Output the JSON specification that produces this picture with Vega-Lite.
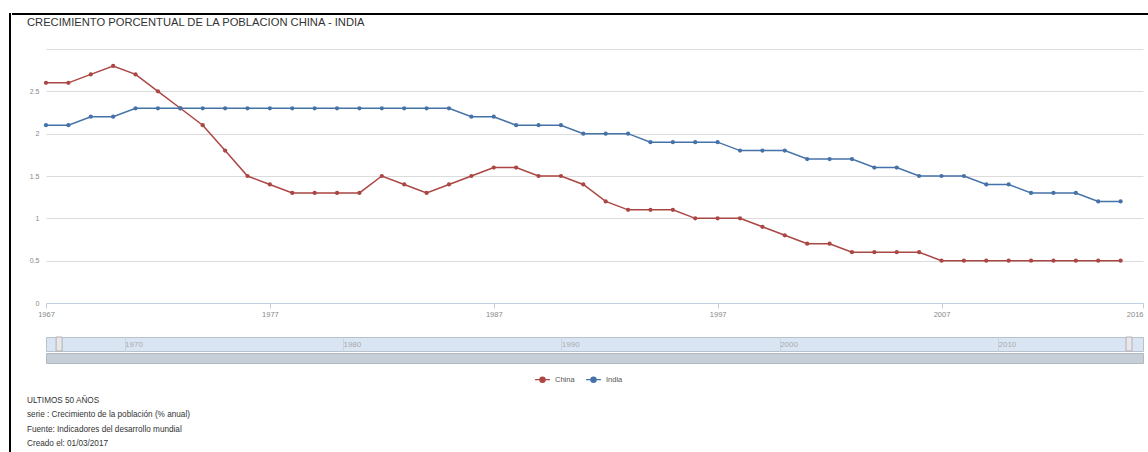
{
  "$schema": "https://vega.github.io/schema/vega-lite/v6.json",
  "padding": {"left": 8, "top": 12, "right": 0, "bottom": 0},
  "background": "white",
  "config": {"font": "Liberation Sans", "view": {"stroke": null}},
  "datasets": {
    "pop": [
      {"year": 1967, "country": "China", "value": 2.6}, {"year": 1968, "country": "China", "value": 2.6},
      {"year": 1969, "country": "China", "value": 2.7}, {"year": 1970, "country": "China", "value": 2.8},
      {"year": 1971, "country": "China", "value": 2.7}, {"year": 1972, "country": "China", "value": 2.5},
      {"year": 1973, "country": "China", "value": 2.3}, {"year": 1974, "country": "China", "value": 2.1},
      {"year": 1975, "country": "China", "value": 1.8}, {"year": 1976, "country": "China", "value": 1.5},
      {"year": 1977, "country": "China", "value": 1.4}, {"year": 1978, "country": "China", "value": 1.3},
      {"year": 1979, "country": "China", "value": 1.3}, {"year": 1980, "country": "China", "value": 1.3},
      {"year": 1981, "country": "China", "value": 1.3}, {"year": 1982, "country": "China", "value": 1.5},
      {"year": 1983, "country": "China", "value": 1.4}, {"year": 1984, "country": "China", "value": 1.3},
      {"year": 1985, "country": "China", "value": 1.4}, {"year": 1986, "country": "China", "value": 1.5},
      {"year": 1987, "country": "China", "value": 1.6}, {"year": 1988, "country": "China", "value": 1.6},
      {"year": 1989, "country": "China", "value": 1.5}, {"year": 1990, "country": "China", "value": 1.5},
      {"year": 1991, "country": "China", "value": 1.4}, {"year": 1992, "country": "China", "value": 1.2},
      {"year": 1993, "country": "China", "value": 1.1}, {"year": 1994, "country": "China", "value": 1.1},
      {"year": 1995, "country": "China", "value": 1.1}, {"year": 1996, "country": "China", "value": 1.0},
      {"year": 1997, "country": "China", "value": 1.0}, {"year": 1998, "country": "China", "value": 1.0},
      {"year": 1999, "country": "China", "value": 0.9}, {"year": 2000, "country": "China", "value": 0.8},
      {"year": 2001, "country": "China", "value": 0.7}, {"year": 2002, "country": "China", "value": 0.7},
      {"year": 2003, "country": "China", "value": 0.6}, {"year": 2004, "country": "China", "value": 0.6},
      {"year": 2005, "country": "China", "value": 0.6}, {"year": 2006, "country": "China", "value": 0.6},
      {"year": 2007, "country": "China", "value": 0.5}, {"year": 2008, "country": "China", "value": 0.5},
      {"year": 2009, "country": "China", "value": 0.5}, {"year": 2010, "country": "China", "value": 0.5},
      {"year": 2011, "country": "China", "value": 0.5}, {"year": 2012, "country": "China", "value": 0.5},
      {"year": 2013, "country": "China", "value": 0.5}, {"year": 2014, "country": "China", "value": 0.5},
      {"year": 2015, "country": "China", "value": 0.5},
      {"year": 1967, "country": "India", "value": 2.1}, {"year": 1968, "country": "India", "value": 2.1},
      {"year": 1969, "country": "India", "value": 2.2}, {"year": 1970, "country": "India", "value": 2.2},
      {"year": 1971, "country": "India", "value": 2.3}, {"year": 1972, "country": "India", "value": 2.3},
      {"year": 1973, "country": "India", "value": 2.3}, {"year": 1974, "country": "India", "value": 2.3},
      {"year": 1975, "country": "India", "value": 2.3}, {"year": 1976, "country": "India", "value": 2.3},
      {"year": 1977, "country": "India", "value": 2.3}, {"year": 1978, "country": "India", "value": 2.3},
      {"year": 1979, "country": "India", "value": 2.3}, {"year": 1980, "country": "India", "value": 2.3},
      {"year": 1981, "country": "India", "value": 2.3}, {"year": 1982, "country": "India", "value": 2.3},
      {"year": 1983, "country": "India", "value": 2.3}, {"year": 1984, "country": "India", "value": 2.3},
      {"year": 1985, "country": "India", "value": 2.3}, {"year": 1986, "country": "India", "value": 2.2},
      {"year": 1987, "country": "India", "value": 2.2}, {"year": 1988, "country": "India", "value": 2.1},
      {"year": 1989, "country": "India", "value": 2.1}, {"year": 1990, "country": "India", "value": 2.1},
      {"year": 1991, "country": "India", "value": 2.0}, {"year": 1992, "country": "India", "value": 2.0},
      {"year": 1993, "country": "India", "value": 2.0}, {"year": 1994, "country": "India", "value": 1.9},
      {"year": 1995, "country": "India", "value": 1.9}, {"year": 1996, "country": "India", "value": 1.9},
      {"year": 1997, "country": "India", "value": 1.9}, {"year": 1998, "country": "India", "value": 1.8},
      {"year": 1999, "country": "India", "value": 1.8}, {"year": 2000, "country": "India", "value": 1.8},
      {"year": 2001, "country": "India", "value": 1.7}, {"year": 2002, "country": "India", "value": 1.7},
      {"year": 2003, "country": "India", "value": 1.7}, {"year": 2004, "country": "India", "value": 1.6},
      {"year": 2005, "country": "India", "value": 1.6}, {"year": 2006, "country": "India", "value": 1.5},
      {"year": 2007, "country": "India", "value": 1.5}, {"year": 2008, "country": "India", "value": 1.5},
      {"year": 2009, "country": "India", "value": 1.4}, {"year": 2010, "country": "India", "value": 1.4},
      {"year": 2011, "country": "India", "value": 1.3}, {"year": 2012, "country": "India", "value": 1.3},
      {"year": 2013, "country": "India", "value": 1.3}, {"year": 2014, "country": "India", "value": 1.2},
      {"year": 2015, "country": "India", "value": 1.2}
    ]
  },
  "data": {"name": "pop"},
  "spacing": 0,
  "hconcat": [
    {
      "width": 2, "height": 440,
      "view": {"fill": "black", "stroke": null},
      "mark": {"type": "rule", "opacity": 0},
      "encoding": {}
    },
    {
      "spacing": 1,
      "vconcat": [
        {
          "width": 1138, "height": 2,
          "view": {"fill": "black", "stroke": null},
          "mark": {"type": "rule", "opacity": 0},
          "encoding": {}
        },
        {
          "spacing": 14,
          "hconcat": [
            {
              "width": 1, "height": 1,
              "mark": {"type": "rule", "opacity": 0},
              "encoding": {}
            },
            {
              "title": {
                "text": ["ULTIMOS 50 AÑOS", "serie : Crecimiento de la población (% anual)", "Fuente: Indicadores del desarrollo mundial", "Creado el: 01/03/2017"],
                "orient": "bottom", "anchor": "start", "frame": "group", "dx": -19,
                "fontSize": 8.2, "fontWeight": "normal", "color": "#333", "lineHeight": 14.5, "offset": 33
              },
              "spacing": 18,
              "vconcat": [
                {
                  "title": {
                    "text": "CRECIMIENTO PORCENTUAL DE LA POBLACION CHINA - INDIA",
                    "anchor": "start", "frame": "group", "dx": -19, "offset": 21,
                    "fontSize": 11.2, "fontWeight": "normal", "color": "#333"
                  },
                  "width": 1097, "height": 254,
                  "mark": {"type": "line", "strokeWidth": 1.5, "point": {"filled": true, "size": 18}},
                  "encoding": {
                    "x": {
                      "field": "year", "type": "quantitative",
                      "scale": {"domain": [1967, 2016], "nice": false, "zero": false},
                      "axis": {
                        "title": null, "values": [1967, 1977, 1987, 1997, 2007, 2016], "format": "d",
                        "grid": false, "domainColor": "#c0d0e0", "tickColor": "#c0d0e0", "tickSize": 5,
                        "labelFontSize": 7.5, "labelColor": "#888", "labelPadding": 2,
                        "labelAlign": {"expr": "datum.value == 2016 ? 'right' : 'center'"}
                      }
                    },
                    "y": {
                      "field": "value", "type": "quantitative",
                      "scale": {"domain": [0, 3], "nice": false},
                      "axis": {
                        "title": null, "values": [0, 0.5, 1, 1.5, 2, 2.5, 3],
                        "labelExpr": "datum.value == 3 ? '' : format(datum.value, '~g')",
                        "domain": false, "ticks": false, "gridColor": "#dcdcdc",
                        "labelFontSize": 7, "labelColor": "#888", "labelPadding": 7
                      }
                    },
                    "color": {
                      "field": "country", "type": "nominal",
                      "scale": {"domain": ["China", "India"], "range": ["#AA4643", "#4572A7"]},
                      "legend": {
                        "title": null, "orient": "none", "direction": "horizontal",
                        "legendX": 525, "legendY": 358,
                        "symbolType": "M-1,0H1M0.35,0A0.35,0.35,0,1,1,-0.35,0A0.35,0.35,0,1,1,0.35,0Z",
                        "symbolSize": 220, "symbolStrokeWidth": 1.3,
                        "labelFontSize": 7.5, "labelColor": "#555", "columnPadding": 8,
                        "encode": {"symbols": {"update": {"fill": {"scale": "color", "field": "value"}}}}
                      }
                    }
                  }
                },
                {
                  "spacing": 0,
                  "vconcat": [
                    {
                      "width": 1097, "height": 14,
                      "view": {"fill": "#dae5f4", "stroke": "#b8c2cc"},
                      "layer": [
                        {
                          "mark": {"type": "rule", "opacity": 0},
                          "encoding": {
                            "x": {
                              "field": "year", "type": "quantitative",
                              "scale": {"domain": [1966.4, 2016.64], "nice": false, "zero": false},
                              "axis": {
                                "title": null, "values": [1970, 1980, 1990, 2000, 2010], "format": "d",
                                "grid": true, "gridColor": "#c8d4e4", "domain": false, "ticks": false,
                                "labelAlign": "left", "labelBaseline": "middle", "labelPadding": -7, "labelDx": 3,
                                "labelColor": "#aaa", "labelFontSize": 8
                              }
                            }
                          }
                        },
                        {
                          "data": {"values": [{"edge": 1967}, {"edge": 2016}]},
                          "mark": {"type": "rect", "width": 6, "fill": "#ebe7e8", "stroke": "#b2b1b6", "strokeWidth": 1},
                          "encoding": {"x": {"field": "edge", "type": "quantitative"}}
                        }
                      ]
                    },
                    {
                      "width": 1097, "height": 10,
                      "view": {"fill": "#c6ced8", "stroke": "#b0b8c0"},
                      "mark": {"type": "rule", "opacity": 0},
                      "encoding": {}
                    }
                  ]
                }
              ]
            }
          ]
        }
      ]
    }
  ]
}
